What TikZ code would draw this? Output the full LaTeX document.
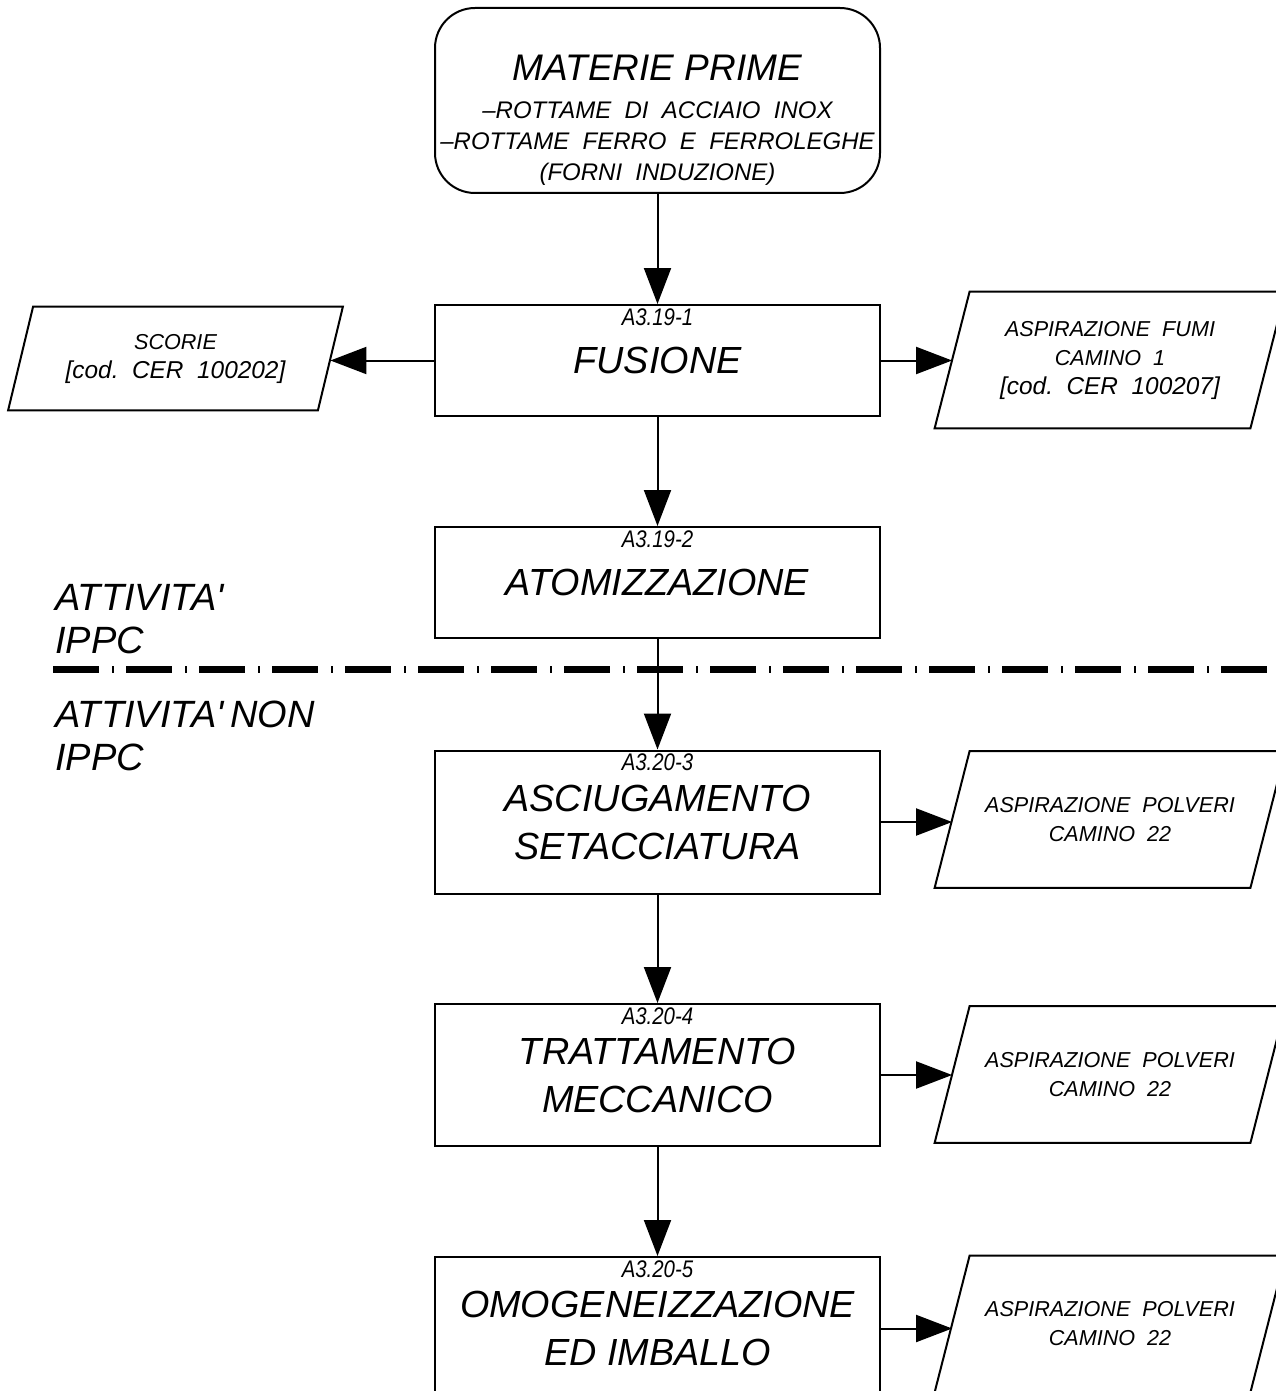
\documentclass[tikz,border=0pt]{standalone}
\usepackage{fontspec}
\setmainfont{Liberation Sans}
\newfontfamily\narrowfont{Liberation Sans}[FakeStretch=0.85]
\usetikzlibrary{arrows.meta}

% slanted frame round an output node
\newcommand{\slantframe}[2]{%
  \draw[line width=1pt] ([xshift=#2]#1.north west) -- ([xshift=#2]#1.north east)
    -- ([xshift=-#2]#1.south east) -- ([xshift=-#2]#1.south west) -- cycle;}
\newcommand{\cercode}[1]{{\fontsize{12.2}{14.5}\selectfont [cod.~~CER~~#1]}}

\tikzset{
  flusso/.style={-{Triangle[length=18pt,width=13.5pt]}, line width=1pt},
  fase/.style={draw, line width=1pt, minimum width=222.5pt, align=center, inner sep=0pt,
    font=\itshape\fontsize{18.9}{24}\selectfont},
  codice/.style={inner sep=0pt, font=\narrowfont\itshape\fontsize{12}{14}\selectfont},
  uscita/.style={inner sep=0pt, minimum width=157.5pt, minimum height=68pt, align=center,
    font=\itshape\fontsize{10.8}{14.5}\selectfont},
  zona/.style={anchor=west, align=left, inner sep=0pt, font=\itshape\fontsize{19}{21.5}\selectfont}
}

\begin{document}
\begin{tikzpicture}[x=0.5pt, y=-0.5pt]
 \useasboundingbox (0,0) rectangle (1275,1391);

 % IPPC / non IPPC
 \coordinate (sepL) at (53,669);
 \coordinate (sepR) at (1300,669);
 \draw[line width=3.5pt, dash pattern=on 23pt off 6.5pt on 1pt off 6pt] (sepL) -- (sepR);
 \node[zona] (ippc) at (55,619) {ATTIVITA\textquotesingle\\IPPC};
 \node[zona] (nonippc) at (55,736) {ATTIVITA\textquotesingle\,NON\\IPPC};

 % raw materials
 \node[draw, line width=1pt, rounded corners=20pt, minimum width=222.5pt, minimum height=92.5pt] (materie) at (657.5,100.5) {};
 \node[inner sep=0pt, font=\itshape\fontsize{18.5}{22}\selectfont] (materietit) at (657.5,68) {MATERIE PRIME};
 \node[inner sep=0pt, align=center, font=\itshape\fontsize{12}{15.5}\selectfont] (materielist) at (657.5,143.5)
   {--ROTTAME~~DI~~ACCIAIO~~INOX\\--ROTTAME~~FERRO~~E~~FERROLEGHE\\(FORNI~~INDUZIONE)};

 % process steps
 \node[fase, minimum height=55.5pt] (fusione) at (657.5,360.5) {FUSIONE};
 \node[codice] (fusionecod) at ([yshift=-6.5pt]fusione.north) {A3.19-1};
 \node[fase, minimum height=55.5pt] (atomizz) at (657.5,582.5) {ATOMIZZAZIONE};
 \node[codice] (atomizzcod) at ([yshift=-6.5pt]atomizz.north) {A3.19-2};
 \node[fase, minimum height=71.5pt] (asciug) at (657.5,822) {ASCIUGAMENTO\\SETACCIATURA};
 \node[codice] (asciugcod) at ([yshift=-6.5pt]asciug.north) {A3.20-3};
 \node[fase, minimum height=71pt] (tratt) at (657.5,1075) {TRATTAMENTO\\MECCANICO};
 \node[codice] (trattcod) at ([yshift=-6.5pt]tratt.north) {A3.20-4};
 \node[fase, minimum height=71.5pt] (omog) at (657.5,1328.5) {OMOGENEIZZAZIONE\\ED IMBALLO};
 \node[codice] (omogcod) at ([yshift=-6.5pt]omog.north) {A3.20-5};

 % outputs
 \node[uscita, minimum width=154.5pt, minimum height=51.5pt] (scorie) at (175.5,358.5) {SCORIE\\\cercode{100202}};
 \slantframe{scorie}{6.25pt}
 \node[uscita] (fumi) at (1110,360) {ASPIRAZIONE~~FUMI\\CAMINO~~1\\\cercode{100207}};
 \slantframe{fumi}{8.75pt}
 \node[uscita] (polveri1) at (1110,819.5) {ASPIRAZIONE~~POLVERI\\CAMINO~~22};
 \slantframe{polveri1}{8.75pt}
 \node[uscita] (polveri2) at (1110,1074.5) {ASPIRAZIONE~~POLVERI\\CAMINO~~22};
 \slantframe{polveri2}{8.75pt}
 \node[uscita] (polveri3) at (1110,1324) {ASPIRAZIONE~~POLVERI\\CAMINO~~22};
 \slantframe{polveri3}{8.75pt}

 % flow
 \draw[flusso] (materie.south) -- (fusione.north);
 \draw[flusso] (fusione.south) -- (atomizz.north);
 \draw[flusso] (atomizz.south) -- (asciug.north);
 \draw[flusso] (asciug.south) -- (tratt.north);
 \draw[flusso] (tratt.south) -- (omog.north);
 \draw[flusso] (fusione.west) -- (fusione.west -| scorie.east);
 \draw[flusso] (fusione.east) -- (fusione.east -| fumi.west);
 \draw[flusso] (asciug.east) -- (asciug.east -| polveri1.west);
 \draw[flusso] (tratt.east) -- (tratt.east -| polveri2.west);
 \draw[flusso] (omog.east) -- (omog.east -| polveri3.west);
\end{tikzpicture}
\end{document}
